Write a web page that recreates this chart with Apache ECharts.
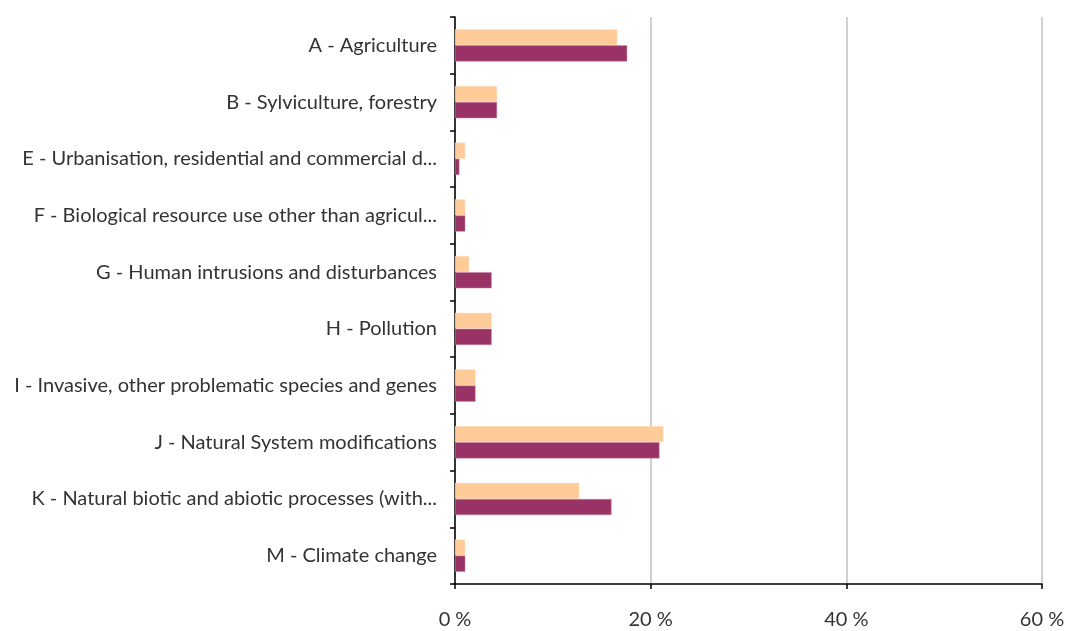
<!DOCTYPE html>
<html>
<head>
<meta charset="utf-8">
<script src="https://cdn.jsdelivr.net/npm/echarts@6/dist/echarts.min.js"></script>
<style>
  html, body { margin: 0; padding: 0; background: #ffffff; }
  #chart { width: 1069px; height: 631px; }
</style>
</head>
<body>
<div id="chart"></div>
<script>
// Pressure categories, listed top to bottom
const categories = [
  'A - Agriculture',
  'B - Sylviculture, forestry',
  'E - Urbanisation, residential and commercial d...',
  'F - Biological resource use other than agricul...',
  'G - Human intrusions and disturbances',
  'H - Pollution',
  'I - Invasive, other problematic species and genes',
  'J - Natural System modifications',
  'K - Natural biotic and abiotic processes (with...',
  'M - Climate change'
];

// Share of reports per category (%)
const lightValues = [16.6, 4.3, 1.05, 1.05, 1.45, 3.75, 2.1, 21.3, 12.7, 1.05];
const darkValues  = [17.6, 4.3, 0.45, 1.05, 3.75, 3.75, 2.1, 20.9, 16.0, 1.05];

const xTicks = [0, 20, 40, 60];

const chart = echarts.init(document.getElementById('chart'), null, { renderer: 'canvas' });

const labelFont = 'Lato, "Open Sans", sans-serif';

chart.setOption({
  animation: false,
  backgroundColor: '#ffffff',
  grid: { left: 455, right: 27, top: 17, bottom: 47, containLabel: false },
  xAxis: {
    type: 'value',
    min: xTicks[0],
    max: xTicks[xTicks.length - 1],
    interval: 20,
    axisLine: { show: true, lineStyle: { color: '#000000', width: 1.5 } },
    axisTick: { show: true, length: 5, lineStyle: { color: '#000000', width: 1.5 } },
    splitLine: { show: true, lineStyle: { color: '#c0c0c0', width: 1.5 } },
    axisLabel: {
      margin: 26,
      color: '#333333',
      fontFamily: labelFont,
      fontSize: 20,
      formatter: v => v + ' %'
    }
  },
  yAxis: {
    type: 'category',
    inverse: true,
    data: categories,
    axisLine: { show: true, lineStyle: { color: '#000000', width: 1.5 } },
    axisTick: { show: true, length: 5, lineStyle: { color: '#000000', width: 1.5 } },
    axisLabel: {
      margin: 18,
      color: '#333333',
      fontFamily: labelFont,
      fontSize: 20
    }
  },
  series: [
    {
      type: 'bar',
      data: lightValues,
      barGap: '0%',
      barCategoryGap: '43%',
      itemStyle: { color: '#ffcc99', borderColor: '#ffe3c8', borderWidth: 0.5 }
    },
    {
      type: 'bar',
      data: darkValues,
      barGap: '0%',
      barCategoryGap: '43%',
      itemStyle: { color: '#993366', borderColor: '#c98aa8', borderWidth: 0.5 }
    }
  ]
});
</script>
</body>
</html>
